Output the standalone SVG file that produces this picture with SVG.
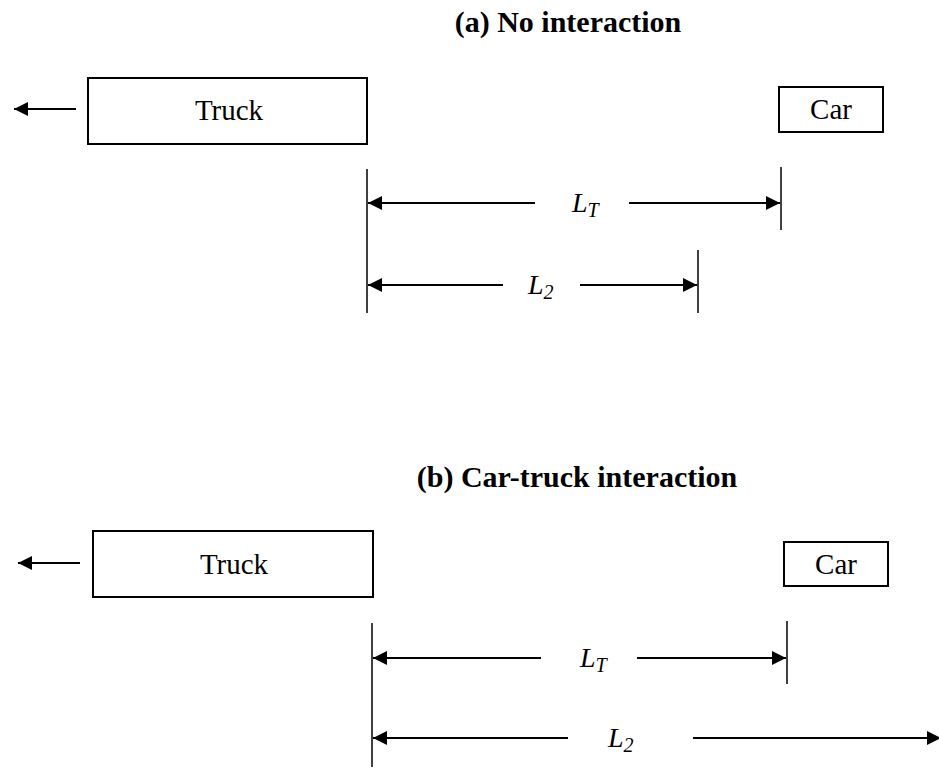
<svg xmlns="http://www.w3.org/2000/svg" width="939" height="772" viewBox="0 0 939 772">
<style>
.box{fill:#fff;stroke:#000;stroke-width:2}
.ln{stroke:#000;stroke-width:2;fill:none}
.tk{stroke:#000;stroke-width:1.5;fill:none}
.t{font-family:"Liberation Serif",serif;font-size:29px;fill:#000}
.h{font-family:"Liberation Serif",serif;font-size:30px;font-weight:bold;fill:#000}
.i{font-family:"Liberation Serif",serif;font-size:28px;font-style:italic;fill:#000}
.s{font-size:20px}
</style>
<defs>
<marker id="ah" viewBox="0 0 10 10" refX="10" refY="5" markerWidth="14" markerHeight="14" markerUnits="userSpaceOnUse" orient="auto-start-reverse">
<path d="M0,0 L10,5 L0,10 z" fill="#000"/>
</marker>
</defs>
<text class="h" x="568" y="32" text-anchor="middle">(a) No interaction</text>
<text class="h" x="577" y="487" text-anchor="middle">(b) Car-truck interaction</text>
<g id="truck-a"><rect class="box" x="88" y="78" width="279" height="66"/><text class="t" x="229" y="120" text-anchor="middle">Truck</text></g>
<g id="car-a"><rect class="box" x="779" y="87" width="104" height="45"/><text class="t" x="831" y="119" text-anchor="middle">Car</text></g>
<g id="truck-b"><rect class="box" x="93" y="531" width="280" height="66"/><text class="t" x="234" y="574" text-anchor="middle">Truck</text></g>
<g id="car-b"><rect class="box" x="784" y="542" width="104" height="44"/><text class="t" x="836" y="574" text-anchor="middle">Car</text></g>
<g id="labels">
<text class="i" x="572" y="212">L<tspan class="s" dy="5">T</tspan></text>
<text class="i" x="528" y="294">L<tspan class="s" dy="5">2</tspan></text>
<text class="i" x="580" y="667">L<tspan class="s" dy="5">T</tspan></text>
<text class="i" x="608" y="747">L<tspan class="s" dy="5">2</tspan></text>
</g>
<g id="connectors">
<line class="ln" x1="76" y1="109" x2="14" y2="109" marker-end="url(#ah)"/>
<line class="ln" x1="80" y1="563" x2="18" y2="563" marker-end="url(#ah)"/>
<line class="tk" x1="367" y1="169" x2="367" y2="313"/>
<line class="tk" x1="781" y1="167" x2="781" y2="230"/>
<line class="tk" x1="698" y1="250" x2="698" y2="313"/>
<line class="ln" x1="535" y1="203" x2="368" y2="203" marker-end="url(#ah)"/>
<line class="ln" x1="629" y1="203" x2="780" y2="203" marker-end="url(#ah)"/>
<line class="ln" x1="503" y1="285" x2="368" y2="285" marker-end="url(#ah)"/>
<line class="ln" x1="580" y1="285" x2="697" y2="285" marker-end="url(#ah)"/>
<line class="tk" x1="372" y1="623" x2="372" y2="767"/>
<line class="tk" x1="787" y1="621" x2="787" y2="684"/>
<line class="ln" x1="541" y1="658" x2="373" y2="658" marker-end="url(#ah)"/>
<line class="ln" x1="637" y1="658" x2="786" y2="658" marker-end="url(#ah)"/>
<line class="ln" x1="568" y1="738" x2="373" y2="738" marker-end="url(#ah)"/>
<line class="ln" x1="693" y1="738" x2="941" y2="738" marker-end="url(#ah)"/>
</g>
</svg>
